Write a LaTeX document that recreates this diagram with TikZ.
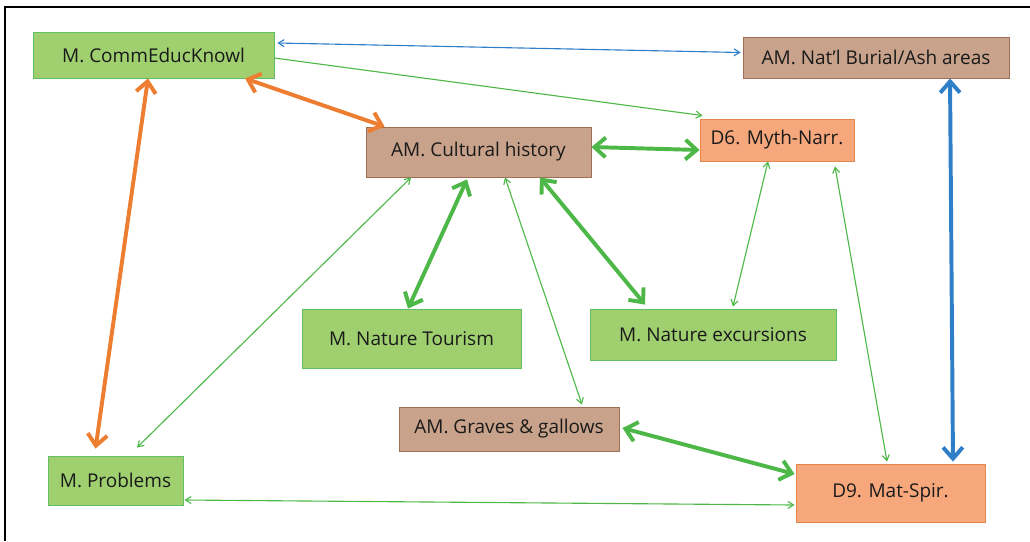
\documentclass[tikz,border=0pt]{standalone}
\usepackage{fontspec}
\setmainfont{Open Sans}
\definecolor{mkGreen}{HTML}{9FCF6F}
\definecolor{mkGreenLine}{HTML}{62BF62}
\definecolor{amBrown}{HTML}{C8A28A}
\definecolor{amBrownLine}{HTML}{A06E55}
\definecolor{dSalmon}{HTML}{F6A87C}
\definecolor{dSalmonLine}{HTML}{E2884F}
\definecolor{lnGreen}{HTML}{4DB848}
\definecolor{lnOrange}{HTML}{ED7D31}
\definecolor{lnBlue}{HTML}{2E7EC8}
\definecolor{boxText}{HTML}{1A1A1A}
\usetikzlibrary{calc,arrows.meta}

\begin{document}
\begin{tikzpicture}[x=0.025cm, y=-0.025cm,
  card/.style={rectangle, inner sep=0pt, text=boxText,
    font=\fontsize{13.5}{16}\selectfont},
  mbox/.style={card, fill=mkGreen, draw=mkGreenLine, line width=0.6pt},
  ambox/.style={card, fill=amBrown, draw=amBrownLine, line width=0.6pt},
  dbox/.style={card, fill=dSalmon, draw=dSalmonLine, line width=0.6pt},
  bigarr/.style={{Straight Barb[length=8pt,width=14pt]}-{Straight Barb[length=8pt,width=14pt]}, line width=2.8pt},
  smallarr/.style={{Straight Barb[length=4pt,width=5pt]}-{Straight Barb[length=4pt,width=5pt]}, line width=0.8pt},
  onearr/.style={-{Straight Barb[length=4pt,width=5pt]}, line width=0.8pt}
]
  \useasboundingbox (0,0) rectangle (1030,541);
  \draw[line width=1.5pt] (5,541) -- (5,7) -- (1030,7);

  \node[mbox, minimum width=241*0.025cm, minimum height=46*0.025cm] (cek) at (153.5,55) {M. CommEducKnowl};
  \node[ambox, minimum width=266*0.025cm, minimum height=41*0.025cm] (nat) at (876,57.5) {AM. Nat'l Burial/Ash areas};
  \node[dbox, minimum width=154*0.025cm, minimum height=42*0.025cm] (myth) at (777,140) {D6. Myth-Narr.};
  \node[ambox, minimum width=225*0.025cm, minimum height=50*0.025cm] (cult) at (478.5,152) {AM. Cultural history};
  \node[mbox, minimum width=219*0.025cm, minimum height=59*0.025cm] (tour) at (411.5,338.5) {M. Nature Tourism};
  \node[mbox, minimum width=246*0.025cm, minimum height=51*0.025cm] (exc) at (713,334.5) {M. Nature excursions};
  \node[mbox, minimum width=135*0.025cm, minimum height=49*0.025cm] (prob) at (115.5,480.5) {M. Problems};
  \node[ambox, minimum width=220*0.025cm, minimum height=44*0.025cm] (grav) at (509,429) {AM. Graves \& gallows};
  \node[dbox, minimum width=189*0.025cm, minimum height=58*0.025cm] (mat) at (890.5,493) {D9. Mat-Spir.};

  \draw[smallarr, lnBlue] ($(cek.east)+(3,-12)$) -- ($(nat.west)+(-2,-5)$);
  \draw[onearr, lnGreen] ($(cek.east)+(0,3)$) -- ($(myth.north west)+(3,-3)$);
  \draw[bigarr, lnOrange] ($(cek.south)+(91.5,0)$) -- ($(cult.north west)+(19,0)$);
  \draw[bigarr, lnOrange] ($(cek.south)+(-5.5,0)$) -- ($(prob.north)+(-20,-7)$);
  \draw[bigarr, lnBlue] ($(nat.south)+(74,0)$) -- ($(mat.north)+(62.5,-2)$);
  \draw[bigarr, lnGreen] ($(cult.east)+(0,-5)$) -- ($(myth.west)+(0,10)$);
  \draw[bigarr, lnGreen] ($(cult.south)+(-11.5,2)$) -- ($(tour.north)+(-3.5,0)$);
  \draw[bigarr, lnGreen] ($(cult.south)+(61.5,0)$) -- ($(exc.north)+(-68,-4)$);
  \draw[bigarr, lnGreen] ($(grav.east)+(3,-1)$) -- ($(mat.west)+(-1,-19)$);
  \draw[smallarr, lnGreen] ($(prob.north)+(21.5,-8)$) -- ($(cult.south)+(-67.5,0)$);
  \draw[smallarr, lnGreen] ($(cult.south)+(26.5,0)$) -- ($(grav.north)+(73,-2)$);
  \draw[smallarr, lnGreen] ($(myth.south)+(-9,0)$) -- ($(exc.north)+(20,-2)$);
  \draw[smallarr, lnGreen] ($(myth.south)+(58,5)$) -- ($(mat.north)+(-3.5,-2)$);
  \draw[smallarr, lnGreen] ($(prob.east)+(1,19.5)$) -- ($(mat.west)+(-1,12)$);
\end{tikzpicture}
\end{document}
